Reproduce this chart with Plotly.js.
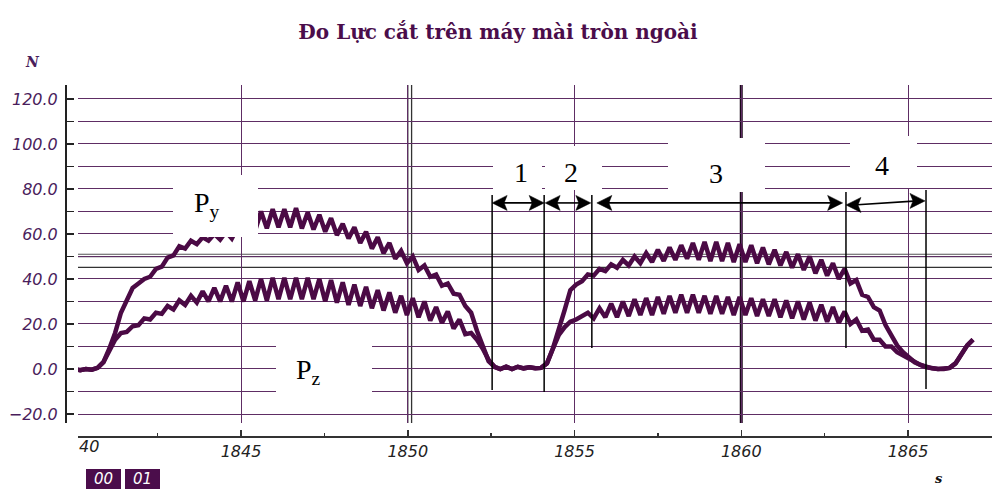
<!DOCTYPE html>
<html>
<head>
<meta charset="utf-8">
<script src="https://cdn.plot.ly/plotly-3.0.1.min.js"></script>
<style>html,body{margin:0;padding:0;background:#fff;}#chart{width:1000px;height:490px;}</style>
</head>
<body>
<div id="chart"></div>
<script>
// ---------------- DATA ----------------
const titleText = 'Đo Lực cắt trên máy mài tròn ngoài';
const yUnit = 'N';
const xUnit = 's';
const xTickVals = [1845, 1850, 1855, 1860, 1865];
const xTickText = ['1845', '1850', '1855', '1860', '1865'];
const xFirstLabel = '40';
const yTickVals = [-20, 0, 20, 40, 60, 80, 100, 120];
const counterLabels = ['00', '01'];
const seriesNames = ['P<sub>y</sub>', 'P<sub>z</sub>'];
const phaseLabels = ['1', '2', '3', '4'];

// sample times (s)
const t = [
  1840.000,1840.175,1840.350,1840.525,1840.700,1840.875,1841.050,1841.225,1841.400,1841.575,
  1841.750,1841.925,1842.100,1842.275,1842.450,1842.625,1842.800,1842.975,1843.150,1843.325,
  1843.500,1843.675,1843.850,1844.025,1844.200,1844.375,1844.550,1844.725,1844.900,1845.075,
  1845.250,1845.425,1845.600,1845.775,1845.950,1846.125,1846.300,1846.475,1846.650,1846.825,
  1847.000,1847.175,1847.350,1847.525,1847.700,1847.875,1848.050,1848.225,1848.400,1848.575,
  1848.750,1848.925,1849.100,1849.275,1849.450,1849.625,1849.800,1849.975,1850.150,1850.325,
  1850.500,1850.675,1850.850,1851.025,1851.200,1851.375,1851.550,1851.725,1851.900,1852.075,
  1852.250,1852.425,1852.600,1852.775,1852.950,1853.125,1853.300,1853.475,1853.650,1853.825,
  1854.000,1854.175,1854.350,1854.525,1854.700,1854.875,1855.050,1855.225,1855.400,1855.575,
  1855.750,1855.925,1856.100,1856.275,1856.450,1856.625,1856.800,1856.975,1857.150,1857.325,
  1857.500,1857.675,1857.850,1858.025,1858.200,1858.375,1858.550,1858.725,1858.900,1859.075,
  1859.250,1859.425,1859.600,1859.775,1859.950,1860.125,1860.300,1860.475,1860.650,1860.825,
  1861.000,1861.175,1861.350,1861.525,1861.700,1861.875,1862.050,1862.225,1862.400,1862.575,
  1862.750,1862.925,1863.100,1863.275,1863.450,1863.625,1863.800,1863.975,1864.150,1864.325,
  1864.500,1864.675,1864.850,1865.025,1865.200,1865.375,1865.550,1865.725,1865.900,1866.075,
  1866.250,1866.425,1866.600,1866.775,1866.950
];
// Py force (N)
const py = [
  0,-0.5,0,-0.3,0.5,3,9,16,25,31,
  36,38,40,41,44.5,45.5,49.5,50.5,54.5,53.5,
  57,55.5,58.5,57,60,57.5,61,58,63,59.5,
  66,61.5,70,62.5,71,63,71,63,71.5,62.5,
  69.5,62,68.5,61,67,59.5,64.5,58,63,56,
  61,53.5,58.5,51.5,56,49,52.5,47,50,44,
  46,41,42,37,38,33.5,33,28,25,17,
  10,3.5,1,0,1,0,1,0.3,0.8,0.3,
  0.5,2.5,9,17,26,35,37.5,39,42,41.5,
  44.5,43.5,46.5,45,48.5,46,50,47,51.5,47.5,
  53,48,54,48.5,55,49,56,48.5,56.5,48,
  56.5,48,56,47.5,55.5,47.5,55,47,54,46.5,
  53,46,52,45,51,44,50,42.5,48.5,41.5,
  47,40,44.5,38,39.5,33,32,27.5,26,19.5,
  15,10.5,7.5,5,3,1.8,0.8,0.3,0,0,
  0.5,2.5,7,10.5,13
];
// Pz force (N)
const pz = [
  0,-0.5,0,-0.3,0.5,3,8,13,16,16.5,
  19,19.5,22.5,22,25,24.5,28,26.5,30.5,28.5,
  32.5,29.5,34.5,30,36,30,37,30,38.5,30,
  39,30.5,40,30.5,40.5,31,40.5,31,40.5,31,
  40.5,31,40,30,39.5,29.5,38.5,28.5,37.5,28,
  36.5,27,35,26,34,25,32.5,24,31.5,23,
  30,21.5,27.5,20.5,25.5,18,22,15.5,16,13,
  9,4,1,0,1,0,1,0.3,0.8,0.3,
  0.5,2.5,9,15,18.5,21,22,23.5,25,22.5,
  27,23,29,23,30,23.5,31,24,31.5,24,
  32,24.5,32.5,25,33,25,33,25,32.5,24.5,
  32.5,24.5,32,24,32,24,31.5,23.5,31,23.5,
  31,23,30.5,22.5,30,22,29.5,21.5,28.5,21,
  27.5,20.5,25.5,20,22,17,17.5,13,13,10,
  10,7.5,6,4.5,3,1.8,0.8,0.3,0,0,
  0.5,2.5,7,10.5,13
];
// phase boundaries (s) and the arrow level (N)
const phaseBounds = [1852.53, 1854.09, 1855.52, 1863.14, 1865.54];
const arrowLevel = 73.8;
// reference lines drawn over the grid
const refLinesY = [51.0, 49.9, 45.2];
const refLinesX = [1850.0, 1850.115, 1860.0];

// ---------------- LAYOUT HELPERS ----------------
const L = 65, R = 992, T = 85, B = 436;
const PX = x => (x - L) / (R - L);
const PY = y => (B - y) / (B - T);
const purple = '#5e2d64';
const ink = '#4b0a45';
const X0 = 1845 + (78 - 241) / 33.35, X1 = 1845 + (992 - 241) / 33.35;
const Y0 = -24, Y1 = 126.2;

const traces = [
  {x: t, y: py, mode: 'lines', line: {color: ink, width: 4.5}, hoverinfo: 'skip'},
  {x: t, y: pz, mode: 'lines', line: {color: ink, width: 4.5}, hoverinfo: 'skip'}
];

const shapes = [];
const refYColors = ['#555', '#555', '#333'];
refLinesY.forEach((v, i) => shapes.push({type: 'line', xref: 'x', yref: 'y', x0: X0, x1: X1, y0: v, y1: v,
  line: {color: refYColors[i], width: 1.2}, layer: 'below'}));
const refXStyle = [{c: '#222', w: 1.3}, {c: '#333', w: 1.3}, {c: '#1a0818', w: 3}];
refLinesX.forEach((v, i) => shapes.push({type: 'line', xref: 'x', yref: 'y', x0: v, x1: v, y0: Y0, y1: Y1,
  line: {color: refXStyle[i].c, width: refXStyle[i].w}, layer: 'below'}));
const vSpans = [[195, 390], [195, 392], [195, 348], [192, 348], [190, 389]];
const yv = p => (369 - p) / 2.25;
phaseBounds.forEach((b, i) => shapes.push({type: 'line', xref: 'x', yref: 'y', x0: b, x1: b,
  y0: yv(vSpans[i][0]), y1: yv(vSpans[i][1]), line: {color: '#000', width: 1.5}, layer: 'above'}));
// double arrows: line + two filled heads
const arrows = [
  [phaseBounds[0], arrowLevel, phaseBounds[1], arrowLevel],
  [phaseBounds[1] + 0.03, arrowLevel, phaseBounds[2] - 0.03, arrowLevel],
  [1855.67, arrowLevel, phaseBounds[3] - 0.1, arrowLevel],
  [phaseBounds[3], arrowLevel - 0.9, phaseBounds[4] - 0.03, arrowLevel + 0.9]
];
const headL = 15 / 33.35, headH = 7.5 / 2.25;
arrows.forEach(a => {
  const [xa, ya, xb, yb] = a;
  shapes.push({type: 'line', xref: 'x', yref: 'y', x0: xa + headL * 0.5, y0: ya, x1: xb - headL * 0.5, y1: yb,
    line: {color: '#000', width: 1.6}, layer: 'above'});
  shapes.push({type: 'path', xref: 'x', yref: 'y', layer: 'above', fillcolor: '#000', line: {color: '#000', width: 0.5},
    path: `M${xa},${ya} L${xa + headL},${ya + headH} L${xa + headL * 0.8},${ya} L${xa + headL},${ya - headH} Z`});
  shapes.push({type: 'path', xref: 'x', yref: 'y', layer: 'above', fillcolor: '#000', line: {color: '#000', width: 0.5},
    path: `M${xb},${yb} L${xb - headL},${yb + headH} L${xb - headL * 0.8},${yb} L${xb - headL},${yb - headH} Z`});
});
const boxes = [[173,175,258,237],[276,333,372,398],[493,146,542,190],[545,146,602,190],[668,138,765,192],[850,136,917,188]];
boxes.forEach(b => shapes.push({type: 'rect', xref: 'paper', yref: 'paper', x0: PX(b[0]), x1: PX(b[2]), y0: PY(b[3]), y1: PY(b[1]),
  fillcolor: '#ffffff', line: {width: 0}, layer: 'above'}));
const cBoxes = [[86,469,121,489],[125,469,160,489]];
cBoxes.forEach(b => shapes.push({type: 'rect', xref: 'paper', yref: 'paper', x0: PX(b[0]), x1: PX(b[2]), y0: PY(b[3]), y1: PY(b[1]),
  fillcolor: '#4b0d4b', line: {width: 0}, layer: 'above'}));

const annotations = [];
const serif = 'Liberation Serif, Times New Roman, serif';
annotations.push({xref: 'paper', yref: 'paper', x: PX(207), y: PY(204), text: seriesNames[0], showarrow: false,
  font: {family: serif, size: 28, color: '#000'}, xanchor: 'center', yanchor: 'middle'});
annotations.push({xref: 'paper', yref: 'paper', x: PX(308), y: PY(371), text: seriesNames[1], showarrow: false,
  font: {family: serif, size: 28, color: '#000'}, xanchor: 'center', yanchor: 'middle'});
const numPos = [[521,172],[571,172],[716,173],[882,165]];
phaseLabels.forEach((s, i) => annotations.push({xref: 'paper', yref: 'paper', x: PX(numPos[i][0]), y: PY(numPos[i][1]), text: s,
  showarrow: false, font: {family: serif, size: 28, color: '#000'}, xanchor: 'center', yanchor: 'middle'}));
annotations.push({xref: 'paper', yref: 'paper', x: PX(77), y: PY(446), text: xFirstLabel, showarrow: false, xanchor: 'left', yanchor: 'middle',
  font: {family: 'DejaVu Sans', size: 16, color: '#222', style: 'italic'}});
annotations.push({xref: 'paper', yref: 'paper', x: PX(32), y: PY(62), text: yUnit, showarrow: false, xanchor: 'center', yanchor: 'middle',
  font: {family: 'DejaVu Serif', size: 14, color: '#4a1d5c', style: 'italic', weight: 'bold'}});
annotations.push({xref: 'paper', yref: 'paper', x: PX(939), y: PY(478), text: xUnit, showarrow: false, xanchor: 'center', yanchor: 'middle',
  font: {family: 'DejaVu Serif', size: 13, color: '#111', style: 'italic', weight: 'bold'}});
const cPos = [103.5, 142.5];
counterLabels.forEach((s, i) => annotations.push({xref: 'paper', yref: 'paper', x: PX(cPos[i]), y: PY(479), text: s, showarrow: false,
  xanchor: 'center', yanchor: 'middle', font: {family: 'DejaVu Sans', size: 15, color: '#fff', style: 'italic'}}));

const layout = {
  width: 1000, height: 490,
  margin: {l: L, r: 1000 - R, t: T, b: 490 - B, pad: 0},
  paper_bgcolor: '#fff', plot_bgcolor: '#fff',
  showlegend: false,
  title: {text: titleText, x: 0.498, xref: 'container', xanchor: 'center', y: 1 - 32 / 490, yref: 'container', yanchor: 'middle',
    font: {family: 'DejaVu Serif', size: 20, color: '#4b0d4b', weight: 'bold'}},
  xaxis: {
    domain: [PX(78), 1], anchor: 'free', position: 0,
    range: [X0, X1],
    tickmode: 'array', tickvals: xTickVals, ticktext: xTickText,
    showgrid: true, gridcolor: purple, gridwidth: 1, zeroline: false,
    showline: true, linecolor: '#333', linewidth: 1.5,
    ticks: 'inside', ticklen: 6, tickwidth: 1.5, tickcolor: '#333',
    minor: {tick0: 1840, dtick: 2.5, ticks: 'inside', ticklen: 3, tickwidth: 1.5, tickcolor: '#333', showgrid: false},
    tickfont: {family: 'DejaVu Sans', size: 16, color: '#222', style: 'italic'}
  },
  yaxis: {
    domain: [PY(423), 1], anchor: 'free', position: 0,
    range: [Y0, Y1],
    tickmode: 'array', tickvals: yTickVals, tickformat: '.1f',
    showgrid: true, gridcolor: purple, gridwidth: 1, zeroline: false,
    showline: true, linecolor: '#222', linewidth: 1.5,
    ticks: 'inside', ticklen: 7, tickwidth: 1.5, tickcolor: '#222',
    ticklabelstandoff: 4,
    minor: {tick0: 0, dtick: 10, ticks: 'inside', ticklen: 7, tickwidth: 1.5, tickcolor: '#222', showgrid: true, gridcolor: purple, gridwidth: 1},
    tickfont: {family: 'DejaVu Sans', size: 16, color: '#4a1d5c', style: 'italic'}
  },
  shapes: shapes,
  annotations: annotations
};

Plotly.newPlot('chart', traces, layout, {displayModeBar: false, staticPlot: true});
</script>
</body>
</html>
